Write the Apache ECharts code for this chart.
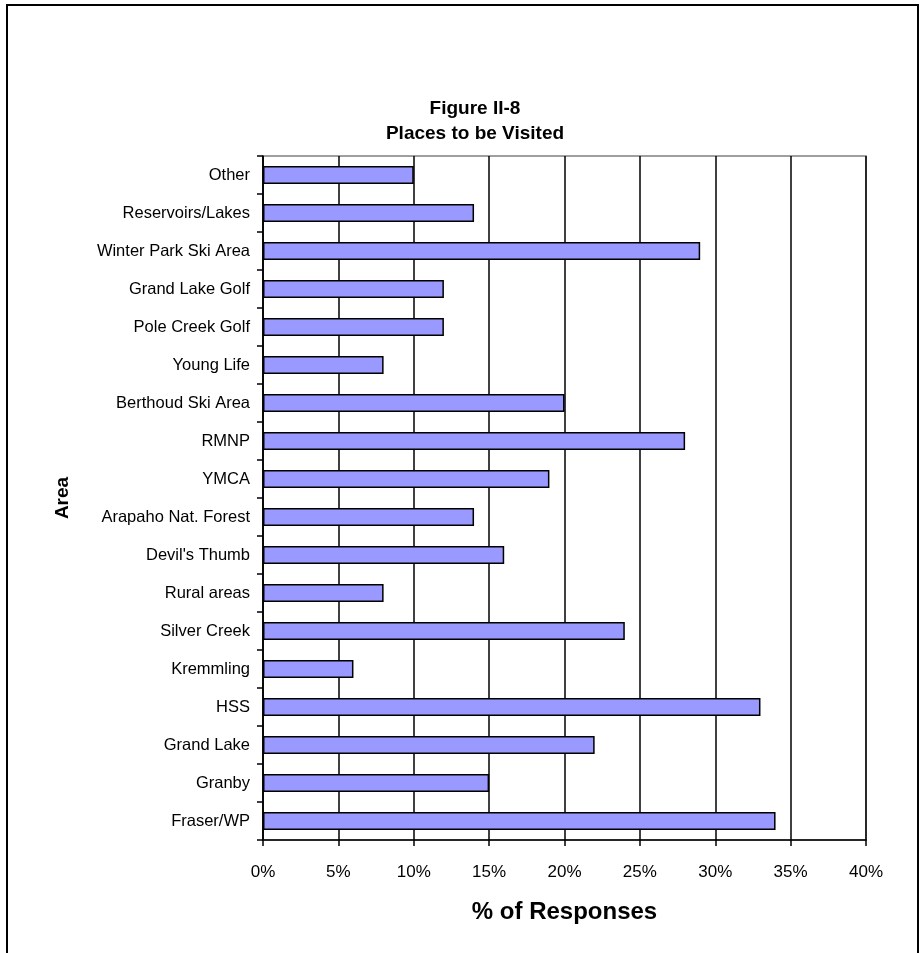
<!DOCTYPE html>
<html>
<head>
<meta charset="utf-8">
<script src="https://cdn.jsdelivr.net/npm/echarts@6/dist/echarts.min.js"></script>
<style>
html,body{margin:0;padding:0;background:#fff;}
#chart{width:923px;height:953px;}
</style>
</head>
<body>
<div id="chart"></div>
<script>
// Categories listed bottom to top
const categories = ["Fraser/WP","Granby","Grand Lake","HSS","Kremmling","Silver Creek","Rural areas","Devil's Thumb","Arapaho Nat. Forest","YMCA","RMNP","Berthoud Ski Area","Young Life","Pole Creek Golf","Grand Lake Golf","Winter Park Ski Area","Reservoirs/Lakes","Other"];
const responses = [34,15,22,33,6,24,8,16,14,19,28,20,8,12,12,29,14,10];
const xMin = 0, xMax = 40, xStep = 5;
const titleLines = ["Figure II-8","Places to be Visited"];
const xAxisName = "% of Responses";
const yAxisName = "Area";

const FONT = "'Liberation Sans', Arial, sans-serif";
const chart = echarts.init(document.getElementById('chart'), null, {renderer:'canvas'});
chart.setOption({
  animation:false,
  backgroundColor:'#fff',
  title:{
    text: titleLines.join('\n'),
    left: 470, top: 91, textAlign:'center',
    textStyle:{fontFamily:FONT,fontWeight:'bold',fontSize:19,color:'#000',lineHeight:25}
  },
  graphic:[{
    type:'rect', z:100, silent:true,
    shape:{x:7,y:5,width:911,height:960},
    style:{fill:'none',stroke:'#000',lineWidth:2}
  }],
  grid:{left:263,right:57,top:156,bottom:113,show:true,borderColor:'#808080',borderWidth:1.5,backgroundColor:'#fff'},
  xAxis:{
    type:'value', min:xMin, max:xMax, interval:xStep,
    name:xAxisName, nameLocation:'middle', nameGap:60,
    nameTextStyle:{fontFamily:FONT,fontWeight:'bold',fontSize:24,color:'#000'},
    axisLine:{show:true,lineStyle:{color:'#000',width:1.5}},
    axisTick:{show:true,length:6,lineStyle:{color:'#000',width:1.5}},
    axisLabel:{formatter:'{value}%',fontFamily:FONT,fontSize:17,color:'#000',margin:24},
    splitLine:{show:true,lineStyle:{color:'#000',width:1.5}}
  },
  yAxis:{
    type:'category', data:categories,
    name:yAxisName, nameLocation:'middle', nameRotate:90, nameGap:191,
    nameTextStyle:{fontFamily:FONT,fontWeight:'bold',fontSize:19,color:'#000'},
    axisLine:{show:true,lineStyle:{color:'#000',width:1.5}},
    axisTick:{show:true,length:6,lineStyle:{color:'#000',width:1.5}},
    axisLabel:{fontFamily:FONT,fontSize:16.5,color:'#000',margin:13},
    splitLine:{show:false}
  },
  series:[{
    type:'bar', data:responses, barWidth:18,
    itemStyle:{color:'#9999FF',borderColor:'#000',borderWidth:1.5}
  }]
});
</script>
</body>
</html>
